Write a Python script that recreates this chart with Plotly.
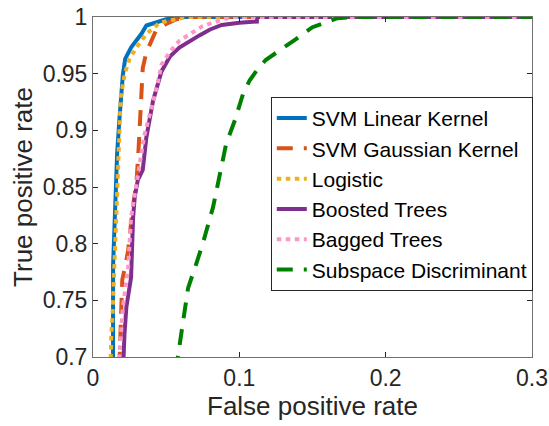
import plotly.graph_objects as go

# ---- data ----
names = ["SVM Linear Kernel", "SVM Gaussian Kernel", "Logistic",
         "Boosted Trees", "Bagged Trees", "Subspace Discriminant"]

svm_lin_fpr = [0, 0.0137, 0.0137, 0.0150, 0.0158, 0.0165, 0.0180, 0.0190, 0.0204,
               0.0220, 0.0260, 0.0300, 0.0330, 0.0365, 0.0420, 0.0500, 0.0590, 0.3, 1]
svm_lin_tpr = [0, 0.700, 0.780, 0.830, 0.860, 0.880, 0.909, 0.930, 0.949,
               0.963, 0.973, 0.980, 0.985, 0.9925, 0.995, 0.998, 1.0, 1.0, 1.0]

svm_gau_fpr = [0, 0.0180, 0.0190, 0.0190, 0.0200, 0.0220, 0.0240, 0.0270, 0.0297,
               0.0310, 0.0320, 0.0330, 0.0340, 0.0365, 0.0400, 0.0430, 0.0500, 0.0570,
               0.0640, 0.3, 1]
svm_gau_tpr = [0, 0.700, 0.720, 0.740, 0.768, 0.780, 0.794, 0.830, 0.854,
               0.880, 0.911, 0.942, 0.955, 0.969, 0.980, 0.988, 0.994, 0.998,
               1.0, 1.0, 1.0]

logit_fpr = [0, 0.0119, 0.0125, 0.0133, 0.0150, 0.0165, 0.0170, 0.0180, 0.0190,
             0.0217, 0.0250, 0.0297, 0.0365, 0.0456, 0.0550, 0.0640, 0.3, 1]
logit_tpr = [0, 0.700, 0.720, 0.735, 0.800, 0.840, 0.870, 0.900, 0.930,
             0.950, 0.963, 0.973, 0.985, 0.995, 0.998, 1.0, 1.0, 1.0]

boost_fpr = [0, 0.0204, 0.0215, 0.0228, 0.0260, 0.0274, 0.0285, 0.0306, 0.0340,
             0.0365, 0.0410, 0.0468, 0.0525, 0.0590, 0.0660, 0.0730, 0.0800, 0.0880,
             0.1000, 0.1120, 0.1120, 0.3, 1]
boost_tpr = [0, 0.700, 0.720, 0.744, 0.770, 0.823, 0.841, 0.856, 0.865,
             0.894, 0.926, 0.952, 0.965, 0.973, 0.979, 0.984, 0.989, 0.993,
             0.995, 0.996, 1.0, 1.0, 1.0]

bag_fpr = [0, 0.0180, 0.0204, 0.0240, 0.0260, 0.0290, 0.0320, 0.0350, 0.0390,
           0.0440, 0.0468, 0.0530, 0.0590, 0.0670, 0.0750, 0.0890, 0.0950, 0.3, 1]
bag_tpr = [0, 0.700, 0.744, 0.779, 0.823, 0.845, 0.871, 0.895, 0.915,
           0.940, 0.958, 0.970, 0.979, 0.986, 0.992, 0.998, 1.0, 1.0, 1.0]

subsp_fpr = [0, 0.0580, 0.0614, 0.0650, 0.0700, 0.0750, 0.0820, 0.0860, 0.0910,
             0.0970, 0.1025, 0.1070, 0.1120, 0.1180, 0.1250, 0.1370, 0.1500, 0.1670,
             0.1800, 0.3, 1]
subsp_tpr = [0, 0.700, 0.730, 0.761, 0.780, 0.800, 0.832, 0.857, 0.888,
             0.909, 0.932, 0.944, 0.953, 0.962, 0.968, 0.979, 0.991, 0.999,
             1.0, 1.0, 1.0]

x_ticks = [0, 0.1, 0.2, 0.3]
x_ticklabels = ["0", "0.1", "0.2", "0.3"]
y_ticks = [0.7, 0.75, 0.8, 0.85, 0.9, 0.95, 1.0]
y_ticklabels = ["0.7", "0.75", "0.8", "0.85", "0.9", "0.95", "1"]

# ---- styles ----
series = [
    (svm_lin_fpr, svm_lin_tpr, "#0072BD", "solid"),
    (svm_gau_fpr, svm_gau_tpr, "#D95319", "16px,11px"),
    (logit_fpr, logit_tpr, "#EDB120", "4.5px,4.5px"),
    (boost_fpr, boost_tpr, "#7E2F8E", "solid"),
    (bag_fpr, bag_tpr, "#FF96CA", "4.5px,4.5px"),
    (subsp_fpr, subsp_tpr, "#008000", "16px,11px"),
]

FONT = "Liberation Sans, Arial, Helvetica, sans-serif"
fig = go.Figure()
for name, (xs, ys, col, dash) in zip(names, series):
    fig.add_trace(go.Scatter(x=xs, y=ys, mode="lines", name=name,
                             line=dict(color=col, width=4, dash=dash)))

axis_common = dict(
    automargin=False,
    showgrid=False, zeroline=False, showline=True, linecolor="#707070", linewidth=1,
    mirror="ticks", ticks="inside", ticklen=5, tickwidth=1, tickcolor="#262626",
    tickfont=dict(family=FONT, size=23, color="#262626"),
)

fig.update_layout(
    width=549, height=426,
    margin=dict(l=93, r=17, t=17, b=69),
    paper_bgcolor="white", plot_bgcolor="white",
    showlegend=True,
    legend=dict(
        x=0.405, y=0.765, xanchor="left", yanchor="top",
        bgcolor="white", bordercolor="#262626", borderwidth=1,
        font=dict(family=FONT, size=21, color="black"),
        tracegroupgap=0, itemwidth=30,
    ),
    xaxis=dict(axis_common, range=[0, 0.3], tickvals=x_ticks, ticktext=x_ticklabels,
               title=dict(text="False positive rate", standoff=7,
                          font=dict(family=FONT, size=26, color="#262626"))),
    yaxis=dict(axis_common, range=[0.7, 1.0], tickvals=y_ticks, ticktext=y_ticklabels,
               title=dict(text="True positive rate", standoff=2,
                          font=dict(family=FONT, size=26, color="#262626"))),
)

fig.write_html("out.html")
